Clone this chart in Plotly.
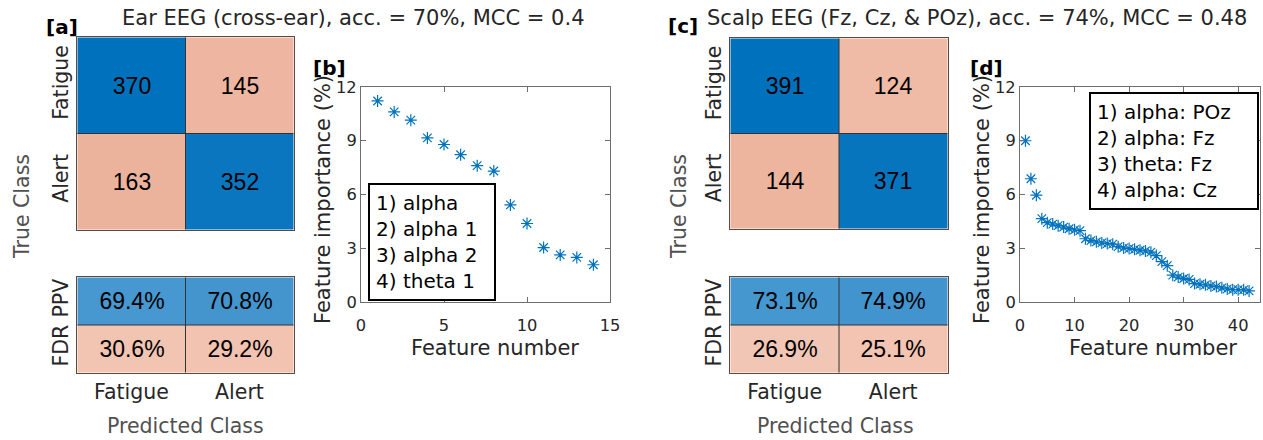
import plotly.graph_objects as go

# ---------------- data ----------------
classes = ["Fatigue", "Alert"]
summary_rows = ["PPV", "FDR"]

# confusion counts: rows = true class, cols = predicted class
ear_counts = [[370, 145],
              [163, 352]]
scalp_counts = [[391, 124],
                [144, 371]]

ear_title = "Ear EEG (cross-ear), acc. = 70%, MCC = 0.4"
scalp_title = "Scalp EEG (Fz, Cz, & POz), acc. = 74%, MCC = 0.48"

# feature importance (%) ranked
ear_importance = [11.22, 10.61, 10.15, 9.16, 8.79, 8.22, 7.61, 7.31,
                  5.42, 4.38, 3.04, 2.63, 2.49, 2.08]
scalp_importance = [9.00, 6.88, 5.96, 4.65, 4.43, 4.35, 4.26, 4.18, 4.09,
                    4.03, 3.98, 3.53, 3.43, 3.36, 3.30, 3.26, 3.23, 3.09,
                    3.02, 2.98, 2.94, 2.89, 2.85, 2.78, 2.59, 2.25, 2.03,
                    1.50, 1.39, 1.31, 1.26, 1.03, 0.99, 0.96, 0.90, 0.86,
                    0.79, 0.73, 0.69, 0.69, 0.68, 0.62]

ear_top_features = ["alpha", "alpha 1", "alpha 2", "theta 1"]
scalp_top_features = ["alpha: POz", "alpha: Fz", "theta: Fz", "alpha: Cz"]

# ---------------- styling ----------------
W, H = 1263, 440
FONT = "DejaVu Sans"
NUMFONT = "Liberation Sans"
BLUE = "#0072BD"
AX = "#6e6e6e"
LABEL_GREY = "#505050"


def px_x(a, b):
    return [a / W, b / W]


def px_y(top, bottom):
    return [1 - bottom / H, 1 - top / H]


def column_ppv(counts):
    ppv = []
    for j in range(2):
        col_total = counts[0][j] + counts[1][j]
        ppv.append(counts[j][j] / col_total * 100)
    return ppv


fig = go.Figure()


def add_matrix(counts, cell_colors, xa, ya):
    z = [[0, 1], [2, 3]]
    scale = [[i / 3, c] for i, c in enumerate(cell_colors)]
    fig.add_trace(go.Heatmap(
        x=classes, y=classes, z=z, text=[[str(v) for v in r] for r in counts],
        texttemplate="%{text}", textfont=dict(family=NUMFONT, size=23, color="black"),
        colorscale=scale, zmin=0, zmax=3, showscale=False, hoverinfo="skip",
        xaxis=xa, yaxis=ya))


def add_summary(counts, cell_colors, xa, ya):
    ppv = column_ppv(counts)
    fdr = [100 - p for p in ppv]
    z = [[0, 1], [2, 3]]
    scale = [[i / 3, c] for i, c in enumerate(cell_colors)]
    txt = [[f"{v:.1f}%" for v in ppv], [f"{v:.1f}%" for v in fdr]]
    fig.add_trace(go.Heatmap(
        x=classes, y=summary_rows, z=z, text=txt,
        texttemplate="%{text}", textfont=dict(family=NUMFONT, size=23, color="black"),
        colorscale=scale, zmin=0, zmax=3, showscale=False, hoverinfo="skip",
        xaxis=xa, yaxis=ya))


def add_importance(values, xa, ya):
    fig.add_trace(go.Scatter(
        x=list(range(1, len(values) + 1)), y=values, mode="markers",
        marker=dict(symbol="asterisk-open", size=10, color=BLUE,
                    line=dict(color=BLUE, width=1.2)),
        hoverinfo="skip", xaxis=xa, yaxis=ya, showlegend=False))


add_matrix(ear_counts, [BLUE, "#EEB6A0", "#ECB39C", "#0A76C0"], "x", "y")
add_summary(ear_counts, ["#4798D0", "#4495CE", "#F2C5B3", "#F2C3B0"], "x2", "y2")
add_importance(ear_importance, "x3", "y3")
add_matrix(scalp_counts, [BLUE, "#EFBBA6", "#EDB59E", "#0774BE"], "x4", "y4")
add_summary(scalp_counts, ["#4597CF", "#4294CE", "#F2C6B4", "#F2C4B1"], "x5", "y5")
add_importance(scalp_importance, "x6", "y6")

cat_tick_font = dict(family=FONT, size=20.5, color="#262626")
num_tick_font = dict(family=FONT, size=16.3, color="#262626")

matrix_x = dict(type="category", showline=True, mirror=True, linecolor="#5b4a44",
                linewidth=1, ticks="", showgrid=False, zeroline=False,
                tickfont=cat_tick_font, fixedrange=True, automargin=False)
matrix_y = dict(type="category", showline=True, mirror=True, linecolor="#5b4a44",
                linewidth=1, ticks="", showgrid=False, zeroline=False,
                autorange="reversed", tickangle=-90, tickfont=cat_tick_font,
                fixedrange=True, automargin=False)
sc_x = dict(showline=True, mirror="ticks", linecolor=AX, linewidth=1, ticks="inside",
            ticklen=5, tickcolor=AX, showgrid=False, zeroline=False,
            tickfont=num_tick_font, ticklabelstandoff=8, fixedrange=True,
            automargin=False)
sc_y = dict(showline=True, mirror="ticks", linecolor=AX, linewidth=1, ticks="inside",
            ticklen=5, tickcolor=AX, showgrid=False, zeroline=False,
            tickfont=num_tick_font, tickvals=[0, 3, 6, 9, 12], range=[0, 12],
            fixedrange=True, automargin=False)

fig.update_layout(
    width=W, height=H, margin=dict(l=0, r=0, t=0, b=0, pad=0), autosize=False,
    paper_bgcolor="white", plot_bgcolor="white", showlegend=False,
    font=dict(family=FONT, color="#262626"),
    xaxis=dict(matrix_x, domain=px_x(77, 294), anchor="y", showticklabels=False),
    yaxis=dict(matrix_y, domain=px_y(37, 230), anchor="x"),
    xaxis2=dict(matrix_x, domain=px_x(77, 294), anchor="y2", side="bottom"),
    yaxis2=dict(matrix_y, domain=px_y(277, 373), anchor="x2"),
    xaxis3=dict(sc_x, domain=px_x(361, 610), anchor="y3", range=[0, 15],
                tickvals=[0, 5, 10, 15]),
    yaxis3=dict(sc_y, domain=px_y(87, 302), anchor="x3"),
    xaxis4=dict(matrix_x, domain=px_x(730, 948), anchor="y4", showticklabels=False),
    yaxis4=dict(matrix_y, domain=px_y(38, 229), anchor="x4"),
    xaxis5=dict(matrix_x, domain=px_x(730, 948), anchor="y5", side="bottom"),
    yaxis5=dict(matrix_y, domain=px_y(277, 373), anchor="x5"),
    xaxis6=dict(sc_x, domain=px_x(1020, 1260), anchor="y6", range=[0, 44],
                tickvals=[0, 10, 20, 30, 40]),
    yaxis6=dict(sc_y, domain=px_y(87, 302), anchor="x6"),
)

# internal cell borders of the matrices
for xa, ya in [("x", "y"), ("x2", "y2"), ("x4", "y4"), ("x5", "y5")]:
    fig.add_shape(type="line", xref=xa, yref=ya, x0=0.5, x1=0.5, y0=-0.5, y1=1.5,
                  line=dict(color="#333333", width=1))
    fig.add_shape(type="line", xref=xa, yref=ya, x0=-0.5, x1=1.5, y0=0.5, y1=0.5,
                  line=dict(color="#333333", width=1))


def note(text, x, y, size=20.5, color="#262626", angle=0, bold=False):
    fig.add_annotation(
        text=f"<b>{text}</b>" if bold else text, x=x / W, y=1 - y / H,
        xref="paper", yref="paper", xanchor="center", yanchor="middle",
        showarrow=False, textangle=angle,
        font=dict(family=FONT, size=size, color=color))


# titles and panel tags
note(ear_title, 353, 18, size=21)
note(scalp_title, 977, 18, size=21)
note("[a]", 62, 27, size=20, color="black", bold=True)
note("[b]", 329, 68, size=20, color="black", bold=True)
note("[c]", 683, 26, size=20, color="black", bold=True)
note("[d]", 986, 68, size=20, color="black", bold=True)

# axis titles
for cx in (22, 679):
    note("True Class", cx, 207, color=LABEL_GREY, angle=-90)
note("Predicted Class", 185, 426, color=LABEL_GREY)
note("Predicted Class", 836, 426, color=LABEL_GREY)
note("Feature number", 495, 348, size=21)
note("Feature number", 1153, 348, size=21)
note("Feature importance (%)", 323, 200, size=21, angle=-90)
note("Feature importance (%)", 982, 200, size=21, angle=-90)


# ranked-feature boxes
def feature_box(names, left, top, width):
    lines = "<br>".join(f"{i + 1}) {n}" for i, n in enumerate(names))
    fig.add_annotation(
        text=lines, x=left / W, y=1 - top / H, xref="paper", yref="paper",
        xanchor="left", yanchor="top", align="left", showarrow=False,
        font=dict(family=FONT, size=20, color="black"),
        bgcolor="white", bordercolor="black", borderwidth=2, borderpad=6,
        width=width)


feature_box(ear_top_features, 368, 183, 112)
feature_box(scalp_top_features, 1089, 92, 154)

fig.write_html("out.html")
